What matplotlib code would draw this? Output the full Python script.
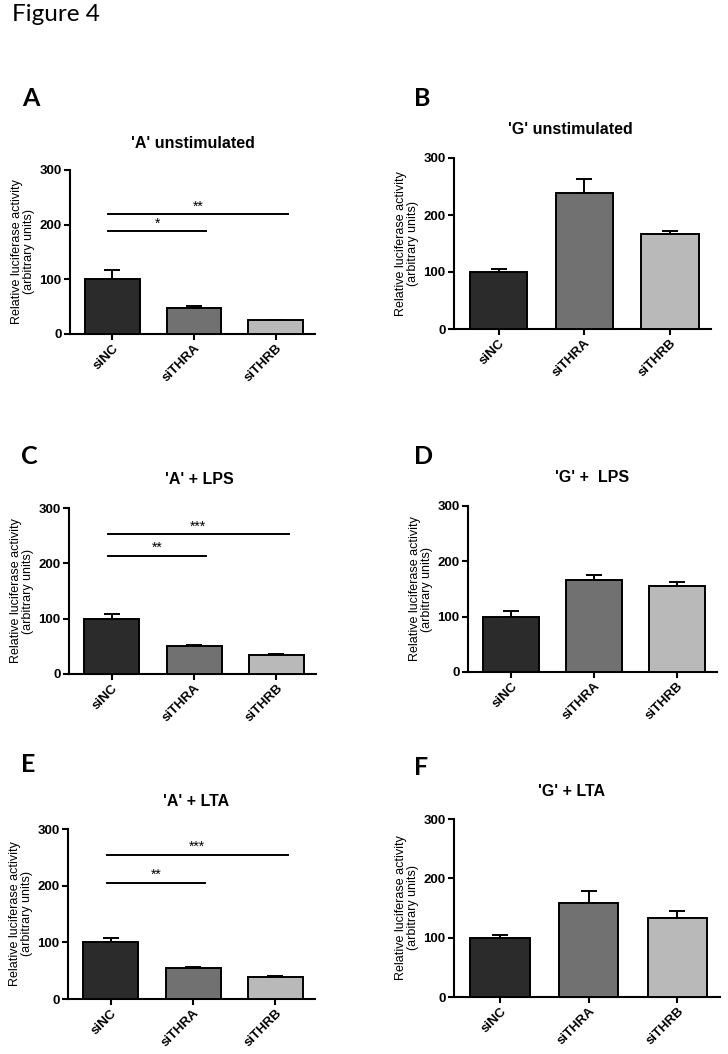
import matplotlib
matplotlib.use("Agg")
import matplotlib.pyplot as plt

W, H = 728, 1054

categories = ["siNC", "siTHRA", "siTHRB"]

titles = ["'A' unstimulated", "'G' unstimulated", "'A' + LPS", "'G' +  LPS", "'A' + LTA", "'G' + LTA"]
letters = ["A", "B", "C", "D", "E", "F"]

means_A = [100, 47, 25]
err_A = [17, 5, 1.5]
means_B = [100, 239, 166]
err_B = [6, 24, 6]
means_C = [100, 50, 35]
err_C = [8, 3, 1.5]
means_D = [100, 166, 155]
err_D = [11, 9, 7]
means_E = [100, 55, 39]
err_E = [7, 2, 2]
means_F = [100, 159, 133]
err_F = [5, 20, 12]

# significance brackets: (from index, to index, y value, label)
sig_A = [(0, 1, 188, "*"), (0, 2, 219, "**")]
sig_C = [(0, 1, 214, "**"), (0, 2, 253, "***")]
sig_E = [(0, 1, 205, "**"), (0, 2, 255, "***")]
sig_empty = []

yticks = [0, 100, 200, 300]

all_means = [means_A, means_B, means_C, means_D, means_E, means_F]
all_errs = [err_A, err_B, err_C, err_D, err_E, err_F]
all_sigs = [sig_A, sig_empty, sig_C, sig_empty, sig_E, sig_empty]

colors = ["#2b2b2b", "#717171", "#b9b9b9"]

# axes boxes in pixels: left, top, right, bottom
boxes = [
    (70, 170, 315, 334),
    (454, 158, 711, 329),
    (69, 508, 316, 674),
    (468, 506, 717, 672),
    (68, 829, 315, 999),
    (454, 819, 720, 997),
]
# letter positions (x, y top), title centre (x, y)
letter_pos = [(22, 87), (414, 87), (21, 445), (414, 445), (21, 753), (414, 756)]
title_x = [193, 570, 199, 592, 196, 572]
title_y = [143, 130, 480, 478, 802, 792]

fig = plt.figure(figsize=(W / 100, H / 100), dpi=100)
fig.patch.set_facecolor("white")

fig.text(12 / W, 1 - 4 / H, "Figure 4", fontsize=17.5, family="Lato", va="top", ha="left")

for i in range(6):
    l, t, r, b = boxes[i]
    ax = fig.add_axes([l / W, 1 - b / H, (r - l) / W, (b - t) / H])
    x = list(range(len(categories)))
    ax.bar(x, all_means[i], width=0.67, color=colors, edgecolor="black", linewidth=1.4, zorder=3)
    ax.errorbar(x, all_means[i], yerr=[[0] * 3, all_errs[i]], fmt="none", ecolor="black",
                elinewidth=1.4, capsize=6, capthick=1.4, zorder=2)
    ax.set_xlim(-0.52, 2.48)
    ax.set_ylim(0, 300)
    ax.set_yticks(yticks)
    ax.set_yticklabels([str(v) for v in yticks], fontsize=9.5, fontweight="bold", family="Liberation Sans")
    ax.set_xticks(x)
    ax.set_xticklabels(categories, rotation=45, ha="right", rotation_mode="anchor",
                       fontsize=9.5, fontweight="bold", family="Liberation Sans")
    for s in ["top", "right"]:
        ax.spines[s].set_visible(False)
    for s in ["left", "bottom"]:
        ax.spines[s].set_linewidth(1.5)
    ax.tick_params(axis="both", direction="out", length=4, width=1.5, pad=2)
    ax.set_ylabel("Relative luciferase activity\n(arbitrary units)", fontsize=9,
                  family="Liberation Sans", labelpad=3, linespacing=1.0)
    for (a, bidx, yv, lab) in all_sigs[i]:
        ax.plot([a - 0.05, bidx + 0.15], [yv, yv], color="black", linewidth=1.4, zorder=4)
        ax.text((a - 0.05 + bidx + 0.15) / 2, yv + 1, lab, ha="center", va="bottom",
                fontsize=10, family="Liberation Sans")
    fig.text(title_x[i] / W, 1 - title_y[i] / H, titles[i], fontsize=11.5, fontweight="bold",
             family="Liberation Sans", ha="center", va="center")
    lx, ly = letter_pos[i]
    fig.text(lx / W, 1 - ly / H, letters[i], fontsize=18, fontweight="bold", family="Lato",
             ha="left", va="top")

fig.savefig("out.png", dpi=100, facecolor="white")
